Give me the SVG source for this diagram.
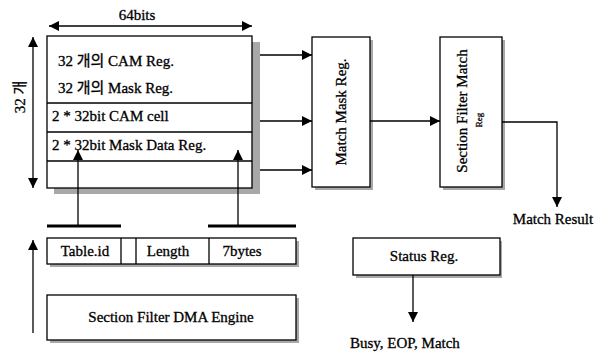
<svg xmlns="http://www.w3.org/2000/svg" width="598" height="354" viewBox="0 0 598 354">
<defs>
<marker id="ah" viewBox="0 0 10 10" refX="10" refY="5" markerWidth="10" markerHeight="10" markerUnits="userSpaceOnUse" orient="auto-start-reverse">
<path d="M0,0 L10,5 L0,10 z" fill="#000"/>
</marker>
</defs>
<style>
text{font-family:"Liberation Serif","Noto Sans CJK KR",serif;font-size:15px;fill:#000;stroke:#000;stroke-width:0.3}
.box{fill:#fff;stroke:#000;stroke-width:1.3}
.sh{fill:#a8a8a8}
.ln{stroke:#000;stroke-width:1.3;fill:none}
.bar{stroke:#000;stroke-width:3;fill:none}
.c{text-anchor:middle}
</style>
<rect width="598" height="354" fill="#fff"/>
<g id="main">
<rect class="sh" x="54" y="42" width="206" height="152"/>
<rect class="box" x="47" y="36" width="205" height="152"/>
<line class="ln" x1="47" y1="103" x2="252" y2="103"/>
<line class="ln" x1="47" y1="132" x2="252" y2="132"/>
<line class="ln" x1="47" y1="161" x2="252" y2="161"/>
<text x="58" y="66">32 개의 CAM Reg.</text>
<text x="58" y="93">32 개의 Mask Reg.</text>
<text x="52" y="121">2 * 32bit CAM cell</text>
<text x="52" y="150">2 * 32bit Mask Data Reg.</text>
</g>
<g id="dim64">
<text class="c" x="137" y="20">64bits</text>
</g>
<g id="dim32">
<text class="c" transform="translate(25,97) rotate(-90)">32 개</text>
</g>
<g id="matchmask">
<rect class="sh" x="315" y="40" width="58" height="150"/>
<rect class="box" x="312" y="37" width="58" height="150"/>
<text class="c" transform="translate(346,112) rotate(-90)">Match Mask Reg.</text>
</g>
<g id="sfmatch">
<rect class="sh" x="443" y="40" width="62" height="150"/>
<rect class="box" x="440" y="37" width="62" height="150"/>
<text class="c" transform="translate(467,111) rotate(-90)">Section Filter Match</text>
<text class="c" style="font-size:9px" transform="translate(482,120) rotate(-90)">Reg</text>
</g>
<g id="matchresult">
<text class="c" x="553" y="224">Match Result</text>
</g>
<g id="status">
<rect class="sh" x="356" y="241" width="146" height="37"/>
<rect class="box" x="353" y="238" width="147" height="37"/>
<text class="c" x="424" y="261">Status Reg.</text>
</g>
<g id="busy">
<text x="350" y="348">Busy, EOP, Match</text>
</g>
<g id="fields">
<rect class="sh" x="50" y="241" width="249" height="26"/>
<rect class="box" x="47" y="238" width="249" height="26"/>
<line class="ln" x1="121" y1="238" x2="121" y2="264"/>
<line class="ln" x1="136" y1="238" x2="136" y2="264"/>
<line class="ln" x1="209" y1="238" x2="209" y2="264"/>
<text class="c" x="85" y="256">Table.id</text>
<text class="c" x="168" y="256">Length</text>
<text class="c" x="242" y="256">7bytes</text>
</g>
<g id="dma">
<rect class="sh" x="50" y="298" width="249" height="45"/>
<rect class="box" x="47" y="295" width="249" height="45"/>
<text class="c" x="171" y="322">Section Filter DMA Engine</text>
</g>
<g id="connectors">
<line class="ln" x1="49" y1="26" x2="252" y2="26" marker-start="url(#ah)" marker-end="url(#ah)"/>
<line class="ln" x1="33" y1="37" x2="33" y2="188" marker-start="url(#ah)" marker-end="url(#ah)"/>
<line class="ln" x1="260" y1="55" x2="312" y2="55" marker-end="url(#ah)"/>
<line class="ln" x1="260" y1="121" x2="312" y2="121" marker-end="url(#ah)"/>
<line class="ln" x1="260" y1="170" x2="312" y2="170" marker-end="url(#ah)"/>
<line class="ln" x1="370" y1="121" x2="440" y2="121" marker-end="url(#ah)"/>
<polyline class="ln" points="502,122 557,122 557,207" marker-end="url(#ah)"/>
<line class="ln" x1="413" y1="275" x2="413" y2="322" marker-end="url(#ah)"/>
<line class="ln" x1="78" y1="226" x2="78" y2="150" marker-end="url(#ah)"/>
<line class="ln" x1="238" y1="226" x2="238" y2="150" marker-end="url(#ah)"/>
<line class="bar" x1="47" y1="226" x2="121" y2="226"/>
<line class="bar" x1="208" y1="226" x2="296" y2="226"/>
<line class="ln" x1="33" y1="333" x2="33" y2="240" marker-end="url(#ah)"/>
</g>
</svg>
